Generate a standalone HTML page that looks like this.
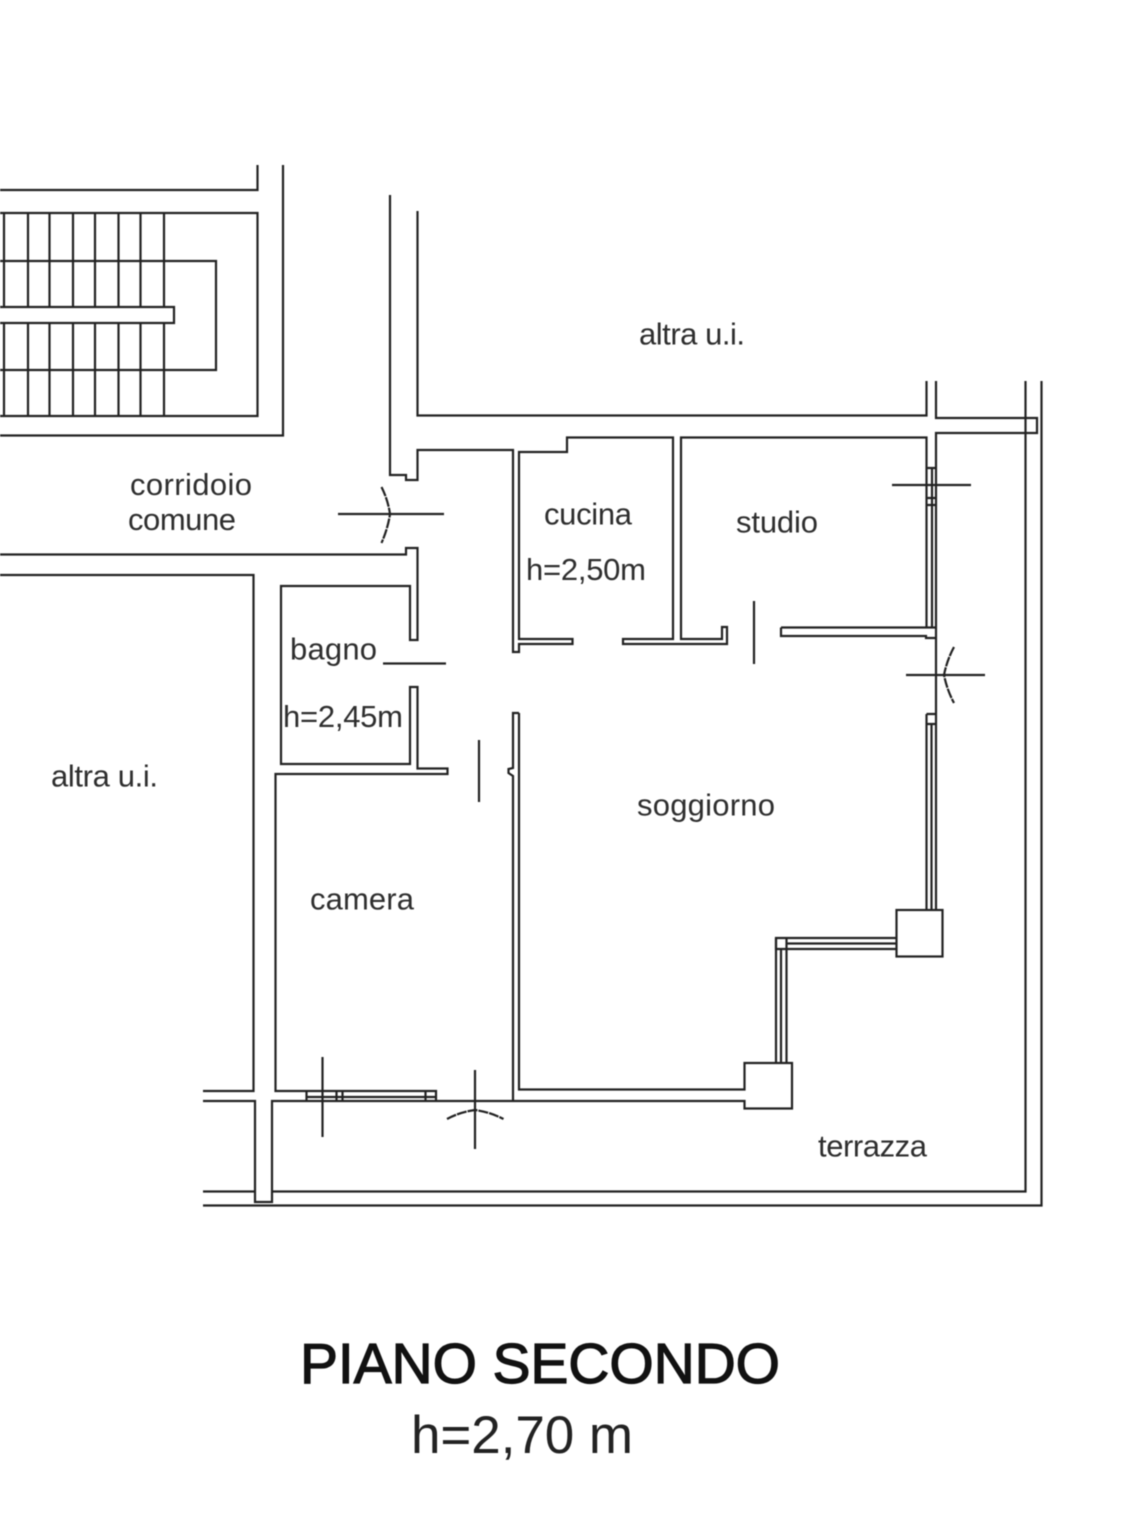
<!DOCTYPE html>
<html><head><meta charset="utf-8"><style>
html,body{margin:0;padding:0;background:#fff;width:1141px;height:1535px;overflow:hidden}
svg{display:block;filter:blur(.45px)}
.l{fill:none;stroke:#222;stroke-width:2.2}
text{font-family:"Liberation Sans",Arial,sans-serif;fill:#2e2e2e;font-size:31px}
</style></head><body>
<svg width="1141" height="1535" viewBox="0 0 1141 1535" xmlns="http://www.w3.org/2000/svg">
<g class="l">
<!-- stairs -->
<path d="M0 190H257.5V165M283 165V435.5H0"/>
<path d="M0 213H257.5V416H0"/>
<path d="M0 261H216V370H0"/>
<path d="M0 307H174V323H0"/>
<path d="M4 213V307M28 213V307M49.5 213V307M73 213V307M95 213V307M118.5 213V307M140.5 213V307M164 213V307"/>
<path d="M4 323V416M28 323V416M49.5 323V416M73 323V416M95 323V416M118.5 323V416M140.5 323V416M164 323V416"/>
<!-- top walls -->
<path d="M390 195V475H406V480H417.5V450H513V652H519V644H572.5V639H519V452H567V437.5H673V639H623V644H727V627H722V639H681V437.5H926.5V468"/>
<path d="M417.5 211V415.5H926.5V381M936 381V418H1037V433H936V714"/>
<path d="M1025.5 381V1191.5H272M1041.5 381V1205.5H203"/>
<!-- right windows -->
<path d="M926.5 468H936M926.5 468V627M932 468V627M926.5 498H936M926.5 505H936"/>
<path d="M781 627.5H936M781 627.5V636H926V638H936"/>
<path d="M926.5 714H936M926.5 714V910M926.5 724H936M931.5 724V910M936 714V910"/>
<rect x="896.5" y="910" width="46" height="46.5"/>
<path d="M896.5 938H776V949H896.5M786.5 943.5H896.5"/>
<path d="M776 938V1063M781 949V1063M786.5 938V1063"/>
<path d="M519 713V1089.5H744.5V1063H792V1108.5H744.5V1101H272V1202H255V1101H203M513 1101V776L508.5 773V769L513 768V713H519"/>
<path d="M203 1091H253.5V575H0M203 1191.5H255"/>
<path d="M0 554.5H406V548H417.5V640H410V586H281V764H410V687H417.5V768.5H447.5V774H275.5V1091H306.5"/>
<!-- bottom window -->
<path d="M306.5 1091H436V1101M306.5 1091V1101M306.5 1097H436M336.5 1091V1101M342.5 1091V1101M425.5 1091V1101"/>
<!-- doors and marks -->
<path d="M383 663.5H446M479 740V802M754 601V664"/>
<path d="M892 485H971M906 675H985M338 514H444M322.5 1057V1137M475 1070V1149"/>
<path d="M381.5 487Q388 500 390 514Q388 528 381.5 543M954 647Q947 660 944 675Q947 690 954 703M447 1119Q460 1112 475 1110Q490 1112 503.5 1119" stroke-dasharray="10 1"/>
</g>
<text x="639" y="344.5" textLength="106">altra u.i.</text>
<text x="130" y="495" textLength="122">corridoio</text>
<text x="128" y="530" textLength="108">comune</text>
<text x="544" y="524.5" textLength="88">cucina</text>
<text x="526" y="580" textLength="120">h=2,50m</text>
<text x="736" y="532.5" textLength="82">studio</text>
<text x="290" y="659.5" textLength="87">bagno</text>
<text x="283" y="727" textLength="120">h=2,45m</text>
<text x="51" y="786.5" textLength="107">altra u.i.</text>
<text x="637" y="815.5" textLength="138">soggiorno</text>
<text x="310" y="909.5" textLength="104">camera</text>
<text x="818" y="1156.5" textLength="109">terrazza</text>
<text x="300" y="1383" textLength="480" style="font-size:57px;fill:#111;stroke:#111;stroke-width:1.2">PIANO SECONDO</text>
<text x="411" y="1453" textLength="222" style="font-size:53px;fill:#222">h=2,70 m</text>
</svg>
</body></html>
